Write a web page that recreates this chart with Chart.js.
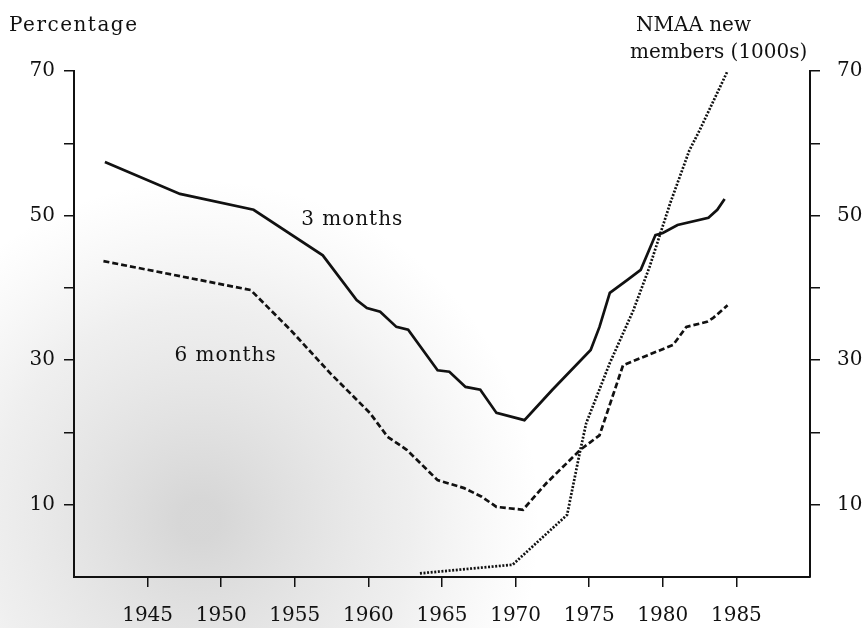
<!DOCTYPE html>
<html>
<head>
<meta charset="utf-8">
<script src="https://cdn.jsdelivr.net/npm/chart.js@4.4.0/dist/chart.umd.min.js"></script>
<style>
  html, body { margin: 0; padding: 0; background: #fff; }
  #wrap { width: 865px; height: 628px; }
</style>
</head>
<body>
<div id="wrap"><canvas id="retentionChart" width="865" height="628"></canvas></div>
<script>
// values
const threeMonthYears = [1942.1, 1947.2, 1952.2, 1956.9, 1959.2, 1959.9, 1960.8, 1961.9, 1962.7, 1964.7, 1965.5, 1966.6, 1967.6, 1968.7, 1970.6, 1972.5, 1975.1, 1975.7, 1976.4, 1977.6, 1978.5, 1979.5, 1980.0, 1981.0, 1983.1, 1983.7, 1984.2];
const threeMonthPct   = [57.4, 53.0, 50.8, 44.5, 38.3, 37.2, 36.7, 34.6, 34.2, 28.6, 28.4, 26.3, 25.9, 22.7, 21.7, 25.9, 31.4, 34.6, 39.3, 41.1, 42.5, 47.3, 47.6, 48.7, 49.7, 50.8, 52.3];

const sixMonthYears = [1942.0, 1952.0, 1954.7, 1957.4, 1960.1, 1961.3, 1962.6, 1964.7, 1966.5, 1967.7, 1968.7, 1970.5, 1972.1, 1974.4, 1975.7, 1977.3, 1978.5, 1980.7, 1981.6, 1983.0, 1983.4, 1984.4];
const sixMonthPct   = [43.7, 39.7, 34.2, 28.2, 22.7, 19.4, 17.6, 13.4, 12.3, 11.1, 9.7, 9.3, 13.0, 17.6, 19.6, 29.3, 30.3, 32.1, 34.6, 35.3, 35.8, 37.6];

const nmaaYears   = [1963.5, 1969.8, 1973.5, 1974.4, 1974.8, 1976.4, 1978.0, 1979.1, 1980.5, 1981.8, 1982.5, 1984.4];
const nmaaMembers = [0.5, 1.7, 8.6, 17.6, 21.3, 29.6, 36.9, 42.9, 51.7, 59.0, 61.8, 70.0];

const yearTicks = [1945, 1950, 1955, 1960, 1965, 1970, 1975, 1980, 1985];
const labelledValues = [10, 30, 50, 70];

const toPoints = (xs, ys) => xs.map((x, i) => ({ x: x, y: ys[i] }));

const FONT = "'DejaVu Serif', 'Liberation Serif', serif";
Chart.defaults.font.family = FONT;
Chart.defaults.font.size = 20;
Chart.defaults.color = '#111';

// scanned-paper shading behind the plot
const paperShade = {
  id: 'paperShade',
  beforeDraw(chart) {
    const c = chart.ctx;
    c.save();
    c.fillStyle = '#fff';
    c.fillRect(0, 0, chart.width, chart.height);
    const g = c.createRadialGradient(200, 520, 20, 200, 520, 340);
    g.addColorStop(0, 'rgba(110,110,110,0.28)');
    g.addColorStop(0.6, 'rgba(140,140,140,0.14)');
    g.addColorStop(1, 'rgba(160,160,160,0)');
    c.fillStyle = g;
    c.fillRect(0, 0, chart.width, chart.height);
    c.restore();
  }
};

// axis captions and in-plot series names
const captions = {
  id: 'captions',
  afterDraw(chart) {
    const c = chart.ctx;
    const xs = chart.scales.x, ys = chart.scales.y;
    c.save();
    c.fillStyle = '#111';
    c.font = '20px ' + FONT;
    c.textBaseline = 'alphabetic';
    c.textAlign = 'left';
    c.letterSpacing = '1.5px';
    c.fillText('Percentage', 9, 31);
    c.letterSpacing = '0px';
    c.fillText('NMAA new', 636, 31);
    c.fillText('members (1000s)', 630, 58);
    c.textAlign = 'center';
    c.textBaseline = 'middle';
    c.letterSpacing = '1px';
    c.fillText('3 months', xs.getPixelForValue(1958.9), ys.getPixelForValue(49.4));
    c.fillText('6 months', xs.getPixelForValue(1950.3), ys.getPixelForValue(30.6));
    c.restore();
  }
};

const axisGrid = { display: true, drawOnChartArea: false, drawTicks: true, tickLength: 10, color: '#111', lineWidth: 1.5 };
const axisBorder = { display: true, color: '#111', width: 2 };
const valueLabel = v => (labelledValues.includes(v) ? String(v) : '');
const dropZero = axis => { axis.ticks = axis.ticks.filter(t => t.value > 0); };

const ctx = document.getElementById('retentionChart').getContext('2d');
const retentionChart = new Chart(ctx, {
  type: 'line',
  data: {
    datasets: [
      {
        label: '3 months',
        data: toPoints(threeMonthYears, threeMonthPct),
        borderColor: '#111',
        borderWidth: 2.7,
        pointRadius: 0,
        tension: 0,
        yAxisID: 'y'
      },
      {
        label: '6 months',
        data: toPoints(sixMonthYears, sixMonthPct),
        borderColor: '#111',
        borderWidth: 2.7,
        borderDash: [6, 3],
        pointRadius: 0,
        tension: 0,
        yAxisID: 'y'
      },
      {
        label: 'NMAA new members (1000s)',
        data: toPoints(nmaaYears, nmaaMembers),
        borderColor: '#111',
        borderWidth: 2.7,
        borderDash: [2, 1.6],
        pointRadius: 0,
        tension: 0,
        yAxisID: 'y2'
      }
    ]
  },
  options: {
    responsive: false,
    animation: false,
    layout: { padding: { top: 71, left: 0, right: 0, bottom: 0 } },
    plugins: {
      legend: { display: false },
      tooltip: { enabled: false }
    },
    scales: {
      x: {
        type: 'linear',
        min: 1940,
        max: 1990,
        grid: axisGrid,
        border: axisBorder,
        afterBuildTicks: axis => { axis.ticks = yearTicks.map(v => ({ value: v })); },
        afterFit: axis => { axis.height = 51; },
        ticks: { padding: 17, maxRotation: 0, callback: v => String(v) }
      },
      y: {
        position: 'left',
        min: 0,
        max: 70,
        grid: axisGrid,
        border: axisBorder,
        afterBuildTicks: dropZero,
        afterFit: axis => { axis.width = 74; },
        ticks: { stepSize: 10, padding: 9, callback: valueLabel }
      },
      y2: {
        position: 'right',
        min: 0,
        max: 70,
        grid: axisGrid,
        border: axisBorder,
        afterBuildTicks: dropZero,
        afterFit: axis => { axis.width = 55; },
        ticks: { stepSize: 10, padding: 17, callback: valueLabel }
      }
    }
  },
  plugins: [paperShade, captions]
});
</script>
</body>
</html>
